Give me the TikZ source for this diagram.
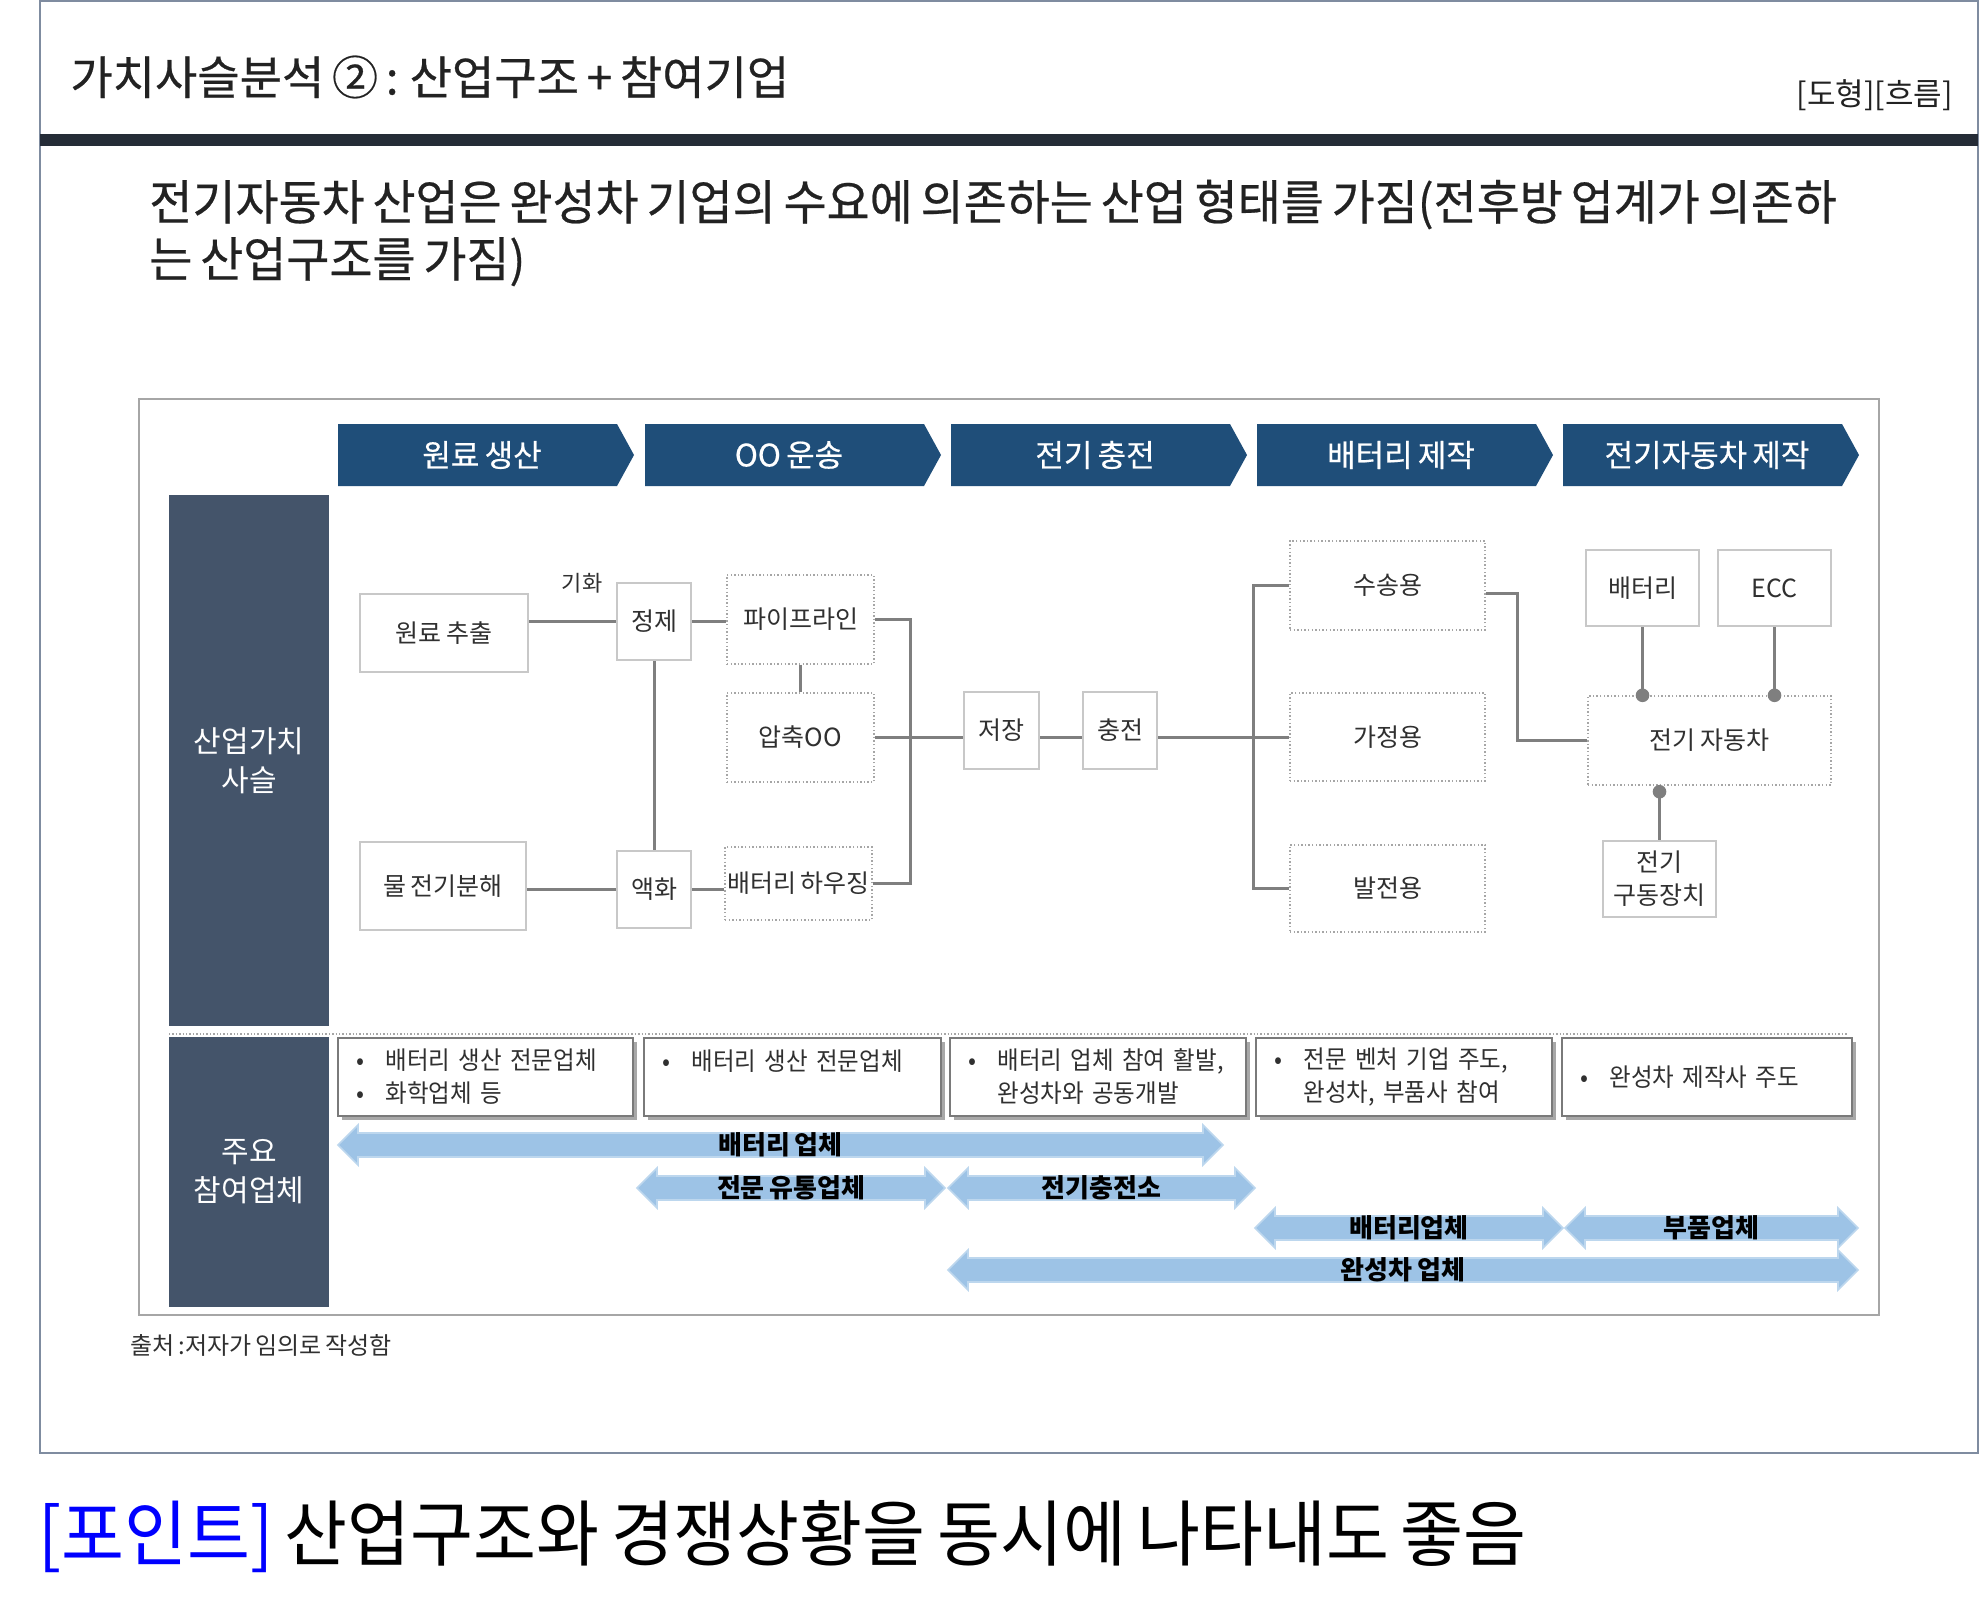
\documentclass[tikz,border=0pt]{standalone}
\usepackage{fontspec}
\setmainfont{Noto Sans CJK KR}[WordSpace=0.75]
\newfontfamily\narrowfont{Noto Sans CJK KR}[FakeStretch=0.95, WordSpace=0.75]
\newfontfamily\descfont{Noto Sans CJK KR}[FakeStretch=0.94, WordSpace=0.6]
\newfontfamily\medfont{Noto Sans CJK KR}[FakeBold=0.5, WordSpace=0.75]
\newfontfamily\mednarrowfont{Noto Sans CJK KR}[FakeBold=0.5, FakeStretch=0.975, WordSpace=0.75]
\usetikzlibrary{shadows}

\definecolor{chev}{HTML}{1F4E79}
\definecolor{side}{HTML}{44546A}
\definecolor{topbar}{HTML}{252C37}
\definecolor{frameblue}{HTML}{7F8CA0}
\definecolor{linegray}{HTML}{7F7F7F}
\definecolor{boxgray}{HTML}{C8C8C8}
\definecolor{dotgray}{HTML}{A6A6A6}
\definecolor{descgray}{HTML}{7A7A7A}
\definecolor{shadowgray}{HTML}{A8A8A8}
\definecolor{arrowblue}{HTML}{9DC3E6}
\definecolor{arrowedge}{HTML}{BDD7EE}
\definecolor{txt}{HTML}{303030}
\definecolor{titlec}{HTML}{222222}
\definecolor{pointblue}{HTML}{0000FF}

\newcommand{\bxfont}{\fontsize{12.5}{16.5}\selectfont}

\newcommand{\chevbox}[4]{%
  \fill[chev] (#2,424) -- ({#3-17},424) -- (#3,455) -- ({#3-17},486) -- (#2,486) -- cycle;
  \node[chevtext] (#1) at ({(#2+#3)/2-4},455) {#4};
}
\newcommand{\blockarr}[5]{%
  \filldraw[fill=arrowblue, draw=arrowedge, line width=0.8pt]
    (#2,#4) -- ({#2+20},{#4-20}) -- ({#2+20},{#4-12}) -- ({#3-20},{#4-12})
    -- ({#3-20},{#4-20}) -- (#3,#4) -- ({#3-20},{#4+20}) -- ({#3-20},{#4+12})
    -- ({#2+20},{#4+12}) -- ({#2+20},{#4+20}) -- cycle;
  \node[arrtext] (#1) at ({(#2+#3)/2},#4) {#5};
}
\newcommand{\bul}{\makebox[14.75pt][l]{•}}
\newcommand{\nobul}{\hspace*{14.75pt}}

\tikzset{
  conn/.style={draw=linegray, line width=1.5pt},
  sbox/.style={draw=boxgray, line width=1.2pt, fill=white, inner sep=0pt,
    font=\bxfont, text=txt, align=center},
  dbox/.style={draw=dotgray, line width=0.7pt, dash pattern=on 0.7pt off 1.1pt,
    fill=white, inner sep=0pt, font=\bxfont, text=txt, align=center},
  chevtext/.style={text=white, font=\medfont\fontsize{15.5}{18}\selectfont, inner sep=0pt},
  sidebar/.style={fill=side, text=white, font=\fontsize{15}{19.5}\selectfont,
    align=center, inner sep=0pt, minimum width=80pt},
  descbox/.style={draw=descgray, line width=1pt, fill=white, inner xsep=9pt,
    inner ysep=0pt, font=\descfont\fontsize{12.5}{16.5}\selectfont, text=txt, align=left,
    minimum height=39pt,
    drop shadow={shadow xshift=2pt, shadow yshift=-2pt, fill=shadowgray, opacity=1}},
  arrtext/.style={font=\fontsize{13}{15}\selectfont\bfseries, text=black, inner sep=0pt},
  dotc/.style={fill=linegray},
}

\begin{document}
\begin{tikzpicture}[x=0.5pt,y=-0.5pt]
\useasboundingbox (0,0) rectangle (1984,1597);
\fill[white] (0,0) rectangle (1984,1597);

% outer frame and header
\draw[frameblue, line width=0.8pt] (40,1) rectangle (1978,1453);
\fill[topbar] (40,134) rectangle (1978,146);
\node[anchor=west, font=\medfont\fontsize{23}{26}\selectfont, text=titlec, inner sep=0pt]
  (title) at (70,77) {가치사슬분석 ② : 산업구조 + 참여기업};
\node[anchor=east, font=\fontsize{15.5}{18}\selectfont, text=titlec, inner sep=0pt]
  (tag) at (1953,95) {[도형][흐름]};
\node[anchor=west, align=left, font=\mednarrowfont\fontsize{24}{28.5}\selectfont, text=titlec, inner sep=0pt]
  (sub) at (149,233) {전기자동차 산업은 완성차 기업의 수요에 의존하는 산업 형태를 가짐(전후방 업계가 의존하\\는 산업구조를 가짐)};

% diagram frame
\draw[dotgray, line width=1pt] (139,399) rectangle (1879,1315);

% chevrons
\chevbox{c1}{338}{634}{원료 생산}
\chevbox{c2}{645}{941}{OO 운송}
\chevbox{c3}{951}{1247}{전기 충전}
\chevbox{c4}{1257}{1553}{배터리 제작}
\chevbox{c5}{1563}{1859}{전기자동차 제작}

% side bars
\node[sidebar, minimum height=265.5pt] (s1) at (249,760.5) {산업가치\\사슬};
\node[sidebar, minimum height=135pt] (s2) at (249,1172) {주요\\참여업체};
\draw[dotgray, line width=0.7pt, dash pattern=on 0.7pt off 1pt] (169,1034) -- (1848,1034);

% value chain nodes
\node[sbox, minimum width=84pt, minimum height=39pt] (A) at (444,633) {원료 추출};
\node[sbox, minimum width=37pt, minimum height=38.5pt] (B) at (654,621.5) {정제};
\node[dbox, minimum width=73.5pt, minimum height=44.5pt] (C) at (800.5,619.5) {파이프라인};
\node[dbox, minimum width=73.5pt, minimum height=44.5pt] (D) at (800.5,737.5) {압축OO};
\node[sbox, minimum width=83pt, minimum height=44pt] (E) at (443,886) {물 전기분해};
\node[sbox, minimum width=37pt, minimum height=38.5pt] (F) at (654,889.5) {액화};
\node[dbox, minimum width=73.5pt, minimum height=36.5pt] (G) at (798.5,883.5) {배터리 하우징};
\node[sbox, minimum width=37.5pt, minimum height=38.5pt] (H) at (1001.5,730.5) {저장};
\node[sbox, minimum width=37pt, minimum height=38.5pt] (I) at (1120,730.5) {충전};
\node[dbox, minimum width=97.5pt, minimum height=44.5pt] (J) at (1387.5,585.5) {수송용};
\node[dbox, minimum width=97.5pt, minimum height=44pt] (K) at (1387.5,737) {가정용};
\node[dbox, minimum width=97.5pt, minimum height=43.5pt] (L) at (1387.5,888.5) {발전용};
\node[sbox, minimum width=56.5pt, minimum height=38pt] (M) at (1642.5,588) {배터리};
\node[sbox, minimum width=56.5pt, minimum height=38pt] (N) at (1774.5,588) {ECC};
\node[dbox, minimum width=121.5pt, minimum height=44.5pt] (O) at (1709.5,740.5) {전기 자동차};
\node[sbox, minimum width=56.5pt, minimum height=38pt] (P) at (1659.5,879) {전기\\구동장치};
\node[font=\fontsize{11}{13}\selectfont, text=txt, inner sep=0pt] (gihwa) at (582,583) {기화};

% connectors
\draw[conn] (B.west) -- (B.west -| A.east);
\draw[conn] (B.east) -- (B.east -| C.west);
\draw[conn] (B.south) -- (F.north);
\draw[conn] (C.south) -- (D.north);
\draw[conn] (F.west) -- (F.west -| E.east);
\draw[conn] (F.east) -- (F.east -| G.west);
\draw[conn] (C.east) -- ++(36,0) |- (G.east);
\draw[conn] (D.east) -- (D.east -| H.west);
\draw[conn] (H.east |- D.east) -- (I.west |- D.east);
\draw[conn] (I.east |- K.west) -- (K.west);
\draw[conn] (J.west) -- ++(-36,0) |- (L.west);
\draw[conn] ([yshift=-4pt]J.east) -- ++(32,0) |- (O.west);
\coordinate (mo) at (M.south |- O.north);
\coordinate (no) at (N.south |- O.north);
\path (P.north |- O.south) ++(0,6) coordinate (po);
\draw[conn] (M.south) -- (mo);
\draw[conn] (N.south) -- (no);
\draw[conn] (po) -- (P.north);
\fill[dotc] (mo) circle (3.4pt);
\fill[dotc] (no) circle (3.4pt);
\fill[dotc] (po) circle (3.4pt);

% description boxes
\node[descbox, minimum width=147.5pt, text width=129.5pt] (d1) at (485.5,1077)
  {\mbox{\bul 배터리 생산 전문업체}\\\mbox{\bul 화학업체 등}};
\node[descbox, minimum width=148.5pt, text width=130.5pt] (d2) at (792.5,1077)
  {\mbox{\bul 배터리 생산 전문업체}\\\mbox{}};
\node[descbox, minimum width=148pt, text width=130pt] (d3) at (1098,1077)
  {\mbox{\bul 배터리 업체 참여 활발,}\\\mbox{\nobul 완성차와 공동개발}};
\node[descbox, minimum width=148pt, text width=130pt] (d4) at (1404,1077)
  {\mbox{\bul 전문 벤처 기업 주도,}\\\mbox{\nobul 완성차, 부품사 참여}};
\node[descbox, minimum width=145pt, text width=127pt] (d5) at (1707,1077)
  {\mbox{\bul 완성차 제작사 주도}};

% participant arrows
\blockarr{a1}{338}{1223}{1145}{배터리 업체}
\blockarr{a2}{637}{945}{1188}{전문 유통업체}
\blockarr{a3}{948}{1255}{1188}{전기충전소}
\blockarr{a4}{1255}{1563}{1228}{배터리업체}
\blockarr{a5}{1565}{1858}{1228}{부품업체}
\blockarr{a6}{948}{1858}{1270}{완성차 업체}

% footer
\node[anchor=west, font=\fontsize{12}{14}\selectfont, text=txt, inner sep=0pt]
  (src) at (130,1345) {출처 :저자가 임의로 작성함};
\node[anchor=west, font=\narrowfont\fontsize{36}{40}\selectfont, text=black, inner sep=0pt]
  (point) at (38,1537) {\textcolor{pointblue}{[포인트]} 산업구조와 경쟁상황을 동시에 나타내도 좋음};
\end{tikzpicture}
\end{document}
